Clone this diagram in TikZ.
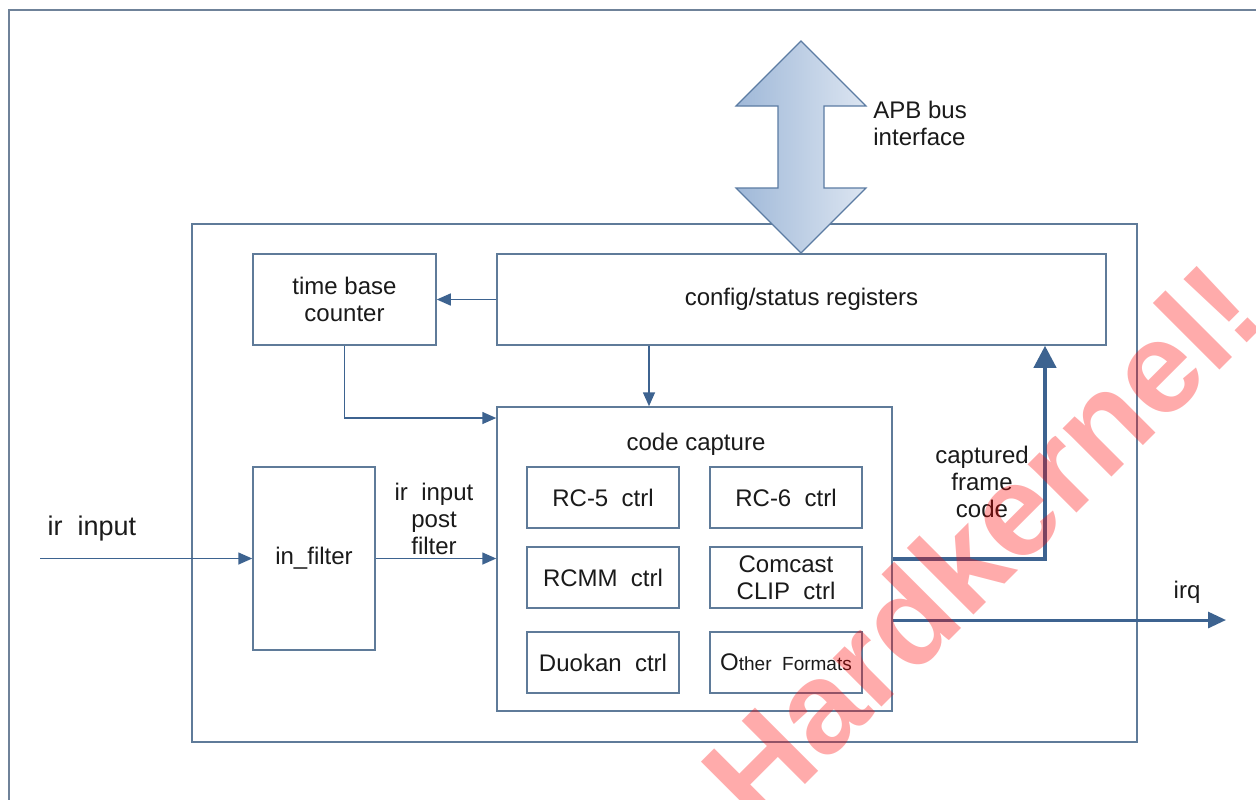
\documentclass[tikz,border=0pt]{standalone}
\usepackage{fontspec}
\setmainfont{Liberation Sans}
\usetikzlibrary{arrows.meta}
\definecolor{boxc}{HTML}{5F7B99}
\definecolor{linec}{HTML}{3D6390}
\definecolor{framec}{HTML}{6F8299}
\definecolor{arrl}{HTML}{9FB8D8}
\definecolor{arrr}{HTML}{DCE5F1}
\definecolor{arrd}{HTML}{5C7CA3}
\definecolor{txt}{HTML}{1A1A1A}
\tikzset{
  blk/.style={draw=boxc, line width=0.75pt, inner sep=0pt, align=center, fill=white, text=txt},
  lbl/.style={inner sep=0pt, align=center, text=txt},
  conn/.style={draw=linec, line width=0.75pt, -{Triangle[length=7pt,width=6pt]}},
  thickconn/.style={draw=linec, line width=2pt, -{Triangle[length=11pt,width=11pt]}},
  irqconn/.style={draw=linec, line width=1.5pt, -{Triangle[length=9pt,width=8pt]}},
}
\begin{document}
\begin{tikzpicture}[x=0.5pt,y=-0.5pt, font=\fontsize{12}{13.5}\selectfont]
\useasboundingbox (0,0) rectangle (1256,799);
\clip (0,0) rectangle (1256,799);
\fill[white] (0,0) rectangle (1256,799);
\draw[framec, line width=1pt] (9,10) rectangle (1300,850);

% main box
\node[blk, minimum width=472.5pt, minimum height=259pt] (main) at (664.5,483) {};

% APB bus arrow
\path[draw=arrd, line width=0.6pt, left color=arrl, right color=arrr]
  (801,41) -- (866,106) -- (824,106) -- (824,188) -- (866,188) -- (801,253)
  -- (736,188) -- (778,188) -- (778,106) -- (736,106) -- cycle;
\node[lbl, anchor=west, align=left] (apb) at (873,123) {APB bus\\interface};

% blocks
\node[blk, minimum width=91.5pt, minimum height=45.5pt] (tbc) at (344.5,299.5) {time base\\counter};
\node[blk, minimum width=304.5pt, minimum height=45.5pt] (cfg) at (801.5,299.5) {config/status registers};
\node[blk, minimum width=197.5pt, minimum height=152pt] (cap) at (694.5,559) {};
\node[lbl] (captitle) at (696,444) {code capture};
\node[blk, minimum width=61pt, minimum height=91.5pt] (inf) at (314,558.5) {in\_filter};

\node[blk, minimum width=76pt, minimum height=30.5pt] (rc5) at (603,497.5) {RC-5~~ctrl};
\node[blk, minimum width=76pt, minimum height=30.5pt] (rc6) at (786,497.5) {RC-6~~ctrl};
\node[blk, minimum width=76pt, minimum height=30.5pt] (rcmm) at (603,577.5) {RCMM~~ctrl};
\node[blk, minimum width=76pt, minimum height=30.5pt] (comc) at (786,577.5) {Comcast\\CLIP~~ctrl};
\node[blk, minimum width=76pt, minimum height=30.5pt] (duo) at (603,662.5) {Duokan~~ctrl};
\node[blk, minimum width=76pt, minimum height=30.5pt] (oth) at (786,662.5) {O{\fontsize{9.5}{11}\selectfont ther~~Formats}};

% coordinates
\coordinate (c1) at (649,0);
\coordinate (ty) at (0,418);
\coordinate (irin) at (40,558.5);
\coordinate (cx) at (1045,0);
\coordinate (irqend) at (1226,620);

% connectors
\draw[conn] (cfg.west) -- (tbc.east);
\draw[conn] (cfg.south -| c1) -- (cap.north -| c1);
\draw[conn] (tbc.south) |- (cap.west |- ty);
\draw[conn] (irin) -- (inf.west);
\draw[conn] (inf.east) -- (cap.west |- inf.east);
\draw[thickconn] (cap.east |- inf.east) -| (cfg.south -| cx);
\draw[irqconn] (cap.east |- irqend) -- (irqend);

% labels
\node[lbl, font=\fontsize{13.5}{15}\selectfont] (irlbl) at (92,529) {ir~~input};
\node[lbl] (postlbl) at (434,519) {ir~~input\\post\\filter};
\node[lbl] (caplbl) at (982,482) {captured\\frame\\code};
\node[lbl] (irqlbl) at (1187,592) {irq};

% watermark
\node[inner sep=0pt, rotate=45, text=red, text opacity=0.33,
      font=\fontsize{65}{65}\selectfont\bfseries] (wm) at (981,543) {Hardkernel!};
\end{tikzpicture}
\end{document}
